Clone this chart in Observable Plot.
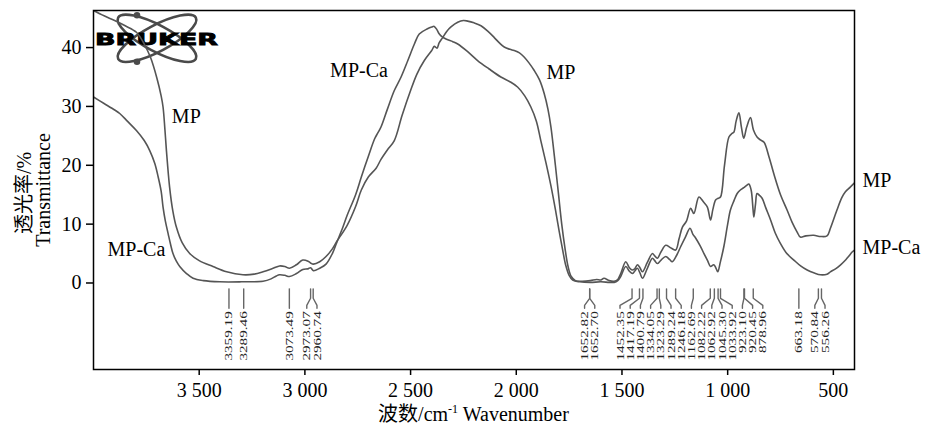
<!DOCTYPE html>
<html><head><meta charset="utf-8">
<script src="https://cdn.jsdelivr.net/npm/d3@7"></script>
<script src="https://cdn.jsdelivr.net/npm/@observablehq/plot@0.6"></script>
<style>body{margin:0;background:#fff}</style>
</head><body><div id="chart"></div>
<script>
// ---- data ----
const mpWn = [4000,3950,3900,3850,3797,3760,3730,3700,3680,3671,3662,3655,3640,3625,3608,3580,3545,3500,3435,3370,3293,3240,3198,3150,3120,3095,3073,3040,3010,2985,2973,2960,2930,2900,2870,2850,2800,2760,2733,2700,2663,2640,2610,2577,2540,2500,2470,2435,2400,2388,2375,2365,2348,2330,2309,2277,2250,2230,2200,2167,2135,2104,2080,2057,2030,2010,1985,1963,1940,1915,1890,1868,1850,1836,1815,1800,1785,1770,1755,1740,1720,1690,1650,1620,1600,1585,1560,1537,1520,1506,1482,1465,1451,1440,1427,1415,1403,1380,1356,1345,1333,1315,1293,1270,1246,1230,1214,1195,1175,1160,1136,1115,1096,1081,1070,1057,1045,1034,1015,994,980,971,960,947,935,924,910,892,878,861,845,828,805,782,750,719,695,672,656,630,593,560,530,514,483,460,443,420,400];
const mpT = [46.3,45.4,44.6,43.7,42.6,40.6,38.3,34.8,31.8,29.9,26.0,22.5,16.3,12.3,9.5,6.8,5.0,3.8,2.8,1.9,1.4,1.5,1.9,2.5,2.9,2.8,2.5,3.1,3.9,3.7,3.4,3.2,3.6,4.5,5.8,7.0,9.8,13.0,15.8,18.0,19.5,21.0,22.6,24.2,28.5,32.7,35.5,37.8,39.5,40.2,39.9,40.8,41.7,42.7,43.5,44.3,44.6,44.5,44.2,43.7,42.8,41.7,40.8,40.1,39.7,39.5,39.1,38.4,37.4,36.1,34.5,32.2,29.5,26.5,20.0,15.0,10.0,6.0,2.8,1.1,0.4,0.3,0.4,0.6,0.5,0.8,0.4,0.3,0.6,1.6,3.6,2.6,2.2,2.4,3.1,2.6,1.9,3.5,5.0,4.6,4.2,5.3,6.4,6.0,5.6,7.5,9.5,10.5,12.7,11.8,14.6,13.8,12.9,10.7,12.5,14.1,14.4,14.6,20.0,24.8,25.4,25.6,27.5,28.9,26.5,24.6,26.5,28.1,26.0,24.8,24.3,23.9,21.5,18.6,15.0,12.4,10.3,8.7,7.8,8.0,8.1,7.9,8.0,9.3,12.4,14.5,15.5,16.3,17.0];

const mpcaWn = [4000,3950,3900,3876,3840,3797,3760,3734,3710,3694,3680,3671,3660,3647,3635,3624,3608,3592,3560,3529,3480,3403,3300,3198,3160,3135,3120,3095,3073,3040,3010,2985,2973,2960,2930,2900,2870,2850,2820,2800,2760,2733,2700,2670,2655,2640,2610,2577,2545,2513,2482,2459,2420,2400,2388,2375,2364,2350,2330,2300,2277,2230,2183,2130,2073,2030,1994,1960,1931,1905,1884,1860,1836,1815,1798,1780,1766,1750,1733,1700,1650,1600,1560,1537,1520,1506,1482,1465,1451,1440,1427,1415,1403,1380,1356,1345,1333,1315,1293,1275,1262,1240,1222,1200,1178,1165,1151,1130,1112,1095,1081,1066,1055,1047,1035,1018,1000,987,970,955,940,924,910,900,889,880,876,868,861,850,837,820,797,775,750,720,687,655,624,590,561,530,514,490,467,440,428,410,400];
const mpcaT = [31.6,30.5,29.4,28.8,27.5,25.9,24.2,22.5,20.3,18.0,15.6,12.9,10.5,8.4,6.5,5.0,3.7,2.8,1.6,0.8,0.4,0.2,0.2,0.3,0.7,1.2,1.4,1.3,1.1,1.6,2.3,2.4,2.6,2.1,2.5,3.2,5.0,6.8,9.5,11.5,15.0,18.0,21.5,24.5,25.5,26.5,29.5,32.7,35.0,37.8,40.6,42.3,43.2,43.5,43.6,43.0,42.3,41.8,41.4,41.0,40.6,39.3,37.8,36.4,35.0,34.2,33.3,31.8,29.9,27.5,24.2,20.5,16.5,12.5,9.0,5.5,3.0,1.3,0.5,0.2,0.1,0.2,0.1,0.1,0.4,1.1,2.8,2.0,1.6,2.0,2.5,1.7,0.8,2.5,4.2,3.8,3.3,3.9,4.5,4.0,3.6,4.8,6.2,7.8,9.3,8.3,7.6,6.3,5.0,3.8,2.8,3.1,2.5,1.9,3.5,6.2,10.0,12.4,14.0,15.2,15.8,16.2,16.6,16.8,15.8,12.5,11.2,13.5,15.2,14.9,14.4,12.8,10.7,8.5,6.7,5.0,3.9,2.9,2.2,1.7,1.4,1.5,1.9,2.4,3.05,4.0,4.5,5.3,5.6];

const peakWn = [3359.19,3289.46,3073.49,2973.07,2960.74,1652.82,1652.70,1452.35,1417.19,1400.79,1334.05,1323.29,1289.24,1246.18,1162.69,1082.22,1062.92,1045.30,1033.92,923.10,920.45,878.96,663.18,570.84,556.26];

const xTicks = [3500,3000,2500,2000,1500,1000,500];
const xTickLabels = ["3 500","3 000","2 500","2 000","1 500","1 000","500"];
const yTicks = [0,10,20,30,40];

const seriesNames = ["MP","MP-Ca"];

// ---- build tables ----
const mp = mpWn.map((w,i)=>({wn:w, t:mpT[i]}));
const mpca = mpcaWn.map((w,i)=>({wn:w, t:mpcaT[i]}));

// label spreading (avoid overlaps of rotated peak labels)
const X0 = 4000, X1 = 400, W = 927, ML = 93, MR = 73;
const k = (W - ML - MR) / (X0 - X1);
const gap = 10.2;
const order = peakWn.map((w,i)=>({w,i,p:(X0-w)*k})).sort((a,b)=>a.p-b.p);
const groups = [];
const gStart = g => g.sum/g.items.length - (g.items.length-1)*gap/2;
for (const o of order) {
  groups.push({items:[o], sum:o.p});
  while (groups.length > 1) {
    const b = groups[groups.length-1], a = groups[groups.length-2];
    if (gStart(a) + a.items.length*gap > gStart(b)) { a.items.push(...b.items); a.sum += b.sum; groups.pop(); }
    else break;
  }
}
const labelWn = new Array(peakWn.length);
for (const g of groups) { const s = gStart(g); g.items.forEach((o,j)=>{ labelWn[o.i] = X0 - (s + j*gap)/k; }); }

const yA = -1.0, yB = -2.6, yC = -3.8, yD = -4.3, yText = -4.8;
const annLines = [];
peakWn.forEach((w,i)=>{
  annLines.push({id:i, x:w, y:yA},{id:i, x:w, y:yB},{id:i, x:labelWn[i], y:yC},{id:i, x:labelWn[i], y:yD});
});
const annLabels = peakWn.map((w,i)=>({x:labelWn[i], text:w.toFixed(2)}));

const seriesLabels = [
  {x:3561, y:28.3, text:seriesNames[0]},
  {x:3797, y:5.6, text:seriesNames[1]},
  {x:2744, y:36.1, text:seriesNames[1]},
  {x:1789, y:35.8, text:seriesNames[0]},
];
const endLabels = [
  {x:400, y:17.4, text:seriesNames[0]},
  {x:400, y:6.0, text:seriesNames[1]},
];

const curveColor = "#555";
const plot = Plot.plot({
  width: W, height: 433,
  marginLeft: ML, marginRight: MR, marginTop: 10, marginBottom: 64,
  style: {fontFamily: "'Liberation Serif', 'Noto Sans CJK SC', serif", fontSize: "20px", color: "#000", background: "#fff"},
  x: {domain: [X0, X1]},
  y: {domain: [-14.7, 46.3]},
  marks: [
    Plot.axisX({ticks: xTicks, tickFormat: d => xTickLabels[xTicks.indexOf(d)], tickSize: 6, tickPadding: 7, fontSize: 20, strokeWidth: 1.5, label: null}),
    Plot.axisY({ticks: yTicks, tickSize: 7, tickPadding: 5, fontSize: 20, strokeWidth: 1.5, label: null}),
    Plot.line(annLines, {x:"x", y:"y", z:"id", stroke:"#666", strokeWidth:1.4}),
    Plot.text(annLabels, {x:"x", y: () => yText, text:"text", rotate:-90, textAnchor:"end", fontSize:11, fill:"#222"}),
    Plot.line(mp, {x:"wn", y:"t", stroke:curveColor, strokeWidth:1.6, curve:"catmull-rom", clip:true}),
    Plot.line(mpca, {x:"wn", y:"t", stroke:curveColor, strokeWidth:1.6, curve:"catmull-rom", clip:true}),
    Plot.text(seriesLabels, {x:"x", y:"y", text:"text", fontSize:20, fill:"#000"}),
    Plot.text(endLabels, {x:"x", y:"y", text:"text", textAnchor:"start", dx:8, fontSize:20, fill:"#000"}),
    Plot.frame({stroke:"#000", strokeWidth:1.5})
  ]
});
document.getElementById("chart").appendChild(plot);

// stretch peak labels along their baseline (condensed look of the original)
const labelSet = new Set(annLabels.map(d=>d.text));
d3.select(plot).selectAll("text").each(function(){
  const t = this.textContent;
  if (labelSet.has(t)) {
    const n = t.length;
    d3.select(this).attr("textLength", ((n-1)*0.5 + 0.25)*11*1.38).attr("lengthAdjust","spacingAndGlyphs");
  }
});

const svg = d3.select(plot);
// Bruker logo (drawn beneath the curves)
const logo = svg.insert("g", "g").attr("transform", "translate(157,38.3)");
logo.append("ellipse").attr("rx",44).attr("ry",13).attr("transform","rotate(28)").attr("fill","none").attr("stroke","#4a4a4a").attr("stroke-width",2.6);
logo.append("ellipse").attr("rx",44).attr("ry",13).attr("transform","rotate(-28)").attr("fill","none").attr("stroke","#4a4a4a").attr("stroke-width",2.6);
logo.append("circle").attr("cx",-20).attr("cy",-23).attr("r",3.3).attr("fill","#4a4a4a");
logo.append("circle").attr("cx",-20).attr("cy",23.4).attr("r",3.3).attr("fill","#4a4a4a");
logo.append("text").attr("x",-62).attr("y",6.5).attr("text-anchor","start").attr("font-family","'DejaVu Sans', sans-serif").attr("font-weight","bold").attr("font-size",16)
  .attr("textLength",123).attr("lengthAdjust","spacingAndGlyphs").attr("fill","#000").attr("stroke","#000").attr("stroke-width",0.8).text("BRUKER");
// axis titles
const xt = svg.append("text").attr("x", (ML + W - MR)/2).attr("y", 421).attr("text-anchor","middle").attr("font-size",20).attr("fill","#000");
xt.append("tspan").text("波数/cm");
xt.append("tspan").attr("font-size",12).attr("dy",-8).text("-1");
xt.append("tspan").attr("dy",8).text(" Wavenumber");
svg.append("text").attr("transform","translate(31,193) rotate(-90)").attr("text-anchor","middle").attr("font-size",20).attr("fill","#000").text("透光率/%");
svg.append("text").attr("transform","translate(50,190) rotate(-90)").attr("text-anchor","middle").attr("font-size",20).attr("fill","#000").text("Transmittance");
</script></body></html>
